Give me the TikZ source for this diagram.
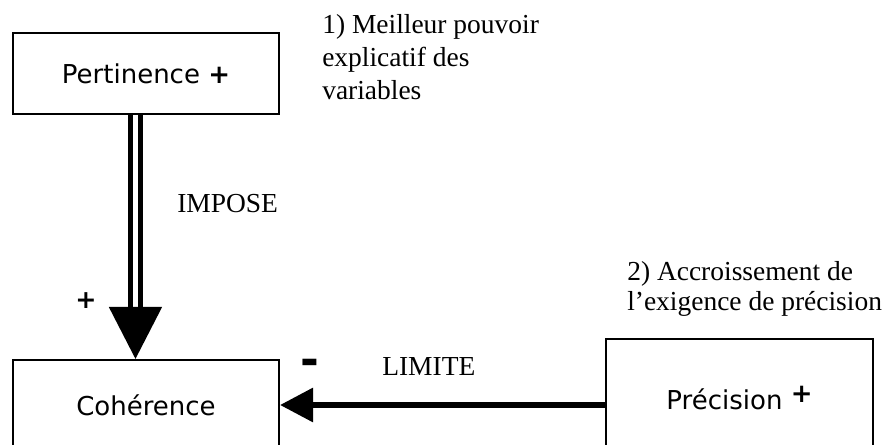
\documentclass[tikz,border=0pt]{standalone}
\usepackage{fontspec}
\setmainfont{Liberation Serif}
\newfontfamily\comicfont{DejaVu Sans}
\usetikzlibrary{arrows.meta}

\begin{document}
\begin{tikzpicture}[x=0.75pt,y=-0.75pt,
    box/.style={draw,line width=1.5pt,minimum width=199.5pt,inner sep=0pt,
      font=\comicfont\fontsize{19.5pt}{23pt}\selectfont},
    note/.style={inner sep=0pt,align=left,font=\fontsize{20.6pt}{24.75pt}\selectfont},
    sign/.style={inner sep=0pt,font=\comicfont\bfseries\fontsize{19pt}{23pt}\selectfont},
    impose/.style={double,line width=3.75pt,double distance=3.75pt,
      -{Triangle[width=39pt,length=39pt]}},
    limite/.style={line width=4.5pt,-{Triangle[width=24.75pt,length=24.75pt]}}]
  \useasboundingbox (0,0) rectangle (893,445);
  \clip (0,0) rectangle (893,445);
  \draw
    (146,73.5) node[box,minimum height=60.75pt] (pert){Pertinence \textbf{+}}
    (146,405) node[box,minimum height=67.5pt] (coh){Cohérence}
    (739.5,398) node[box,minimum height=88.5pt,minimum width=200.25pt] (pre){Précision \raisebox{5pt}{\textbf{+}}};
  \node[note,anchor=north west] (expl) at (322,14) {1) Meilleur pouvoir\\explicatif des\\variables};
  \node[note,anchor=north west,font=\fontsize{20.6pt}{22.5pt}\selectfont] (acc) at (627,261) {2) Accroissement de\\l’exigence de précision};
  \node[note,anchor=base west] (imp) at (177,213) {IMPOSE};
  \node[note,anchor=base west] (lim) at (382,376) {LIMITE};
  \node[sign] (plus) at (86,301) {+};
  \node[sign,font=\comicfont\bfseries\fontsize{34pt}{40pt}\selectfont] (moins) at (310,367) {-};
  \begin{scope}
    \draw[impose] ([xshift=-7.9pt]pert.south) to ([xshift=-7.9pt]coh.north);
    \draw[limite] (pre.west |- coh.east) to (coh.east);
  \end{scope}
\end{tikzpicture}
\end{document}
